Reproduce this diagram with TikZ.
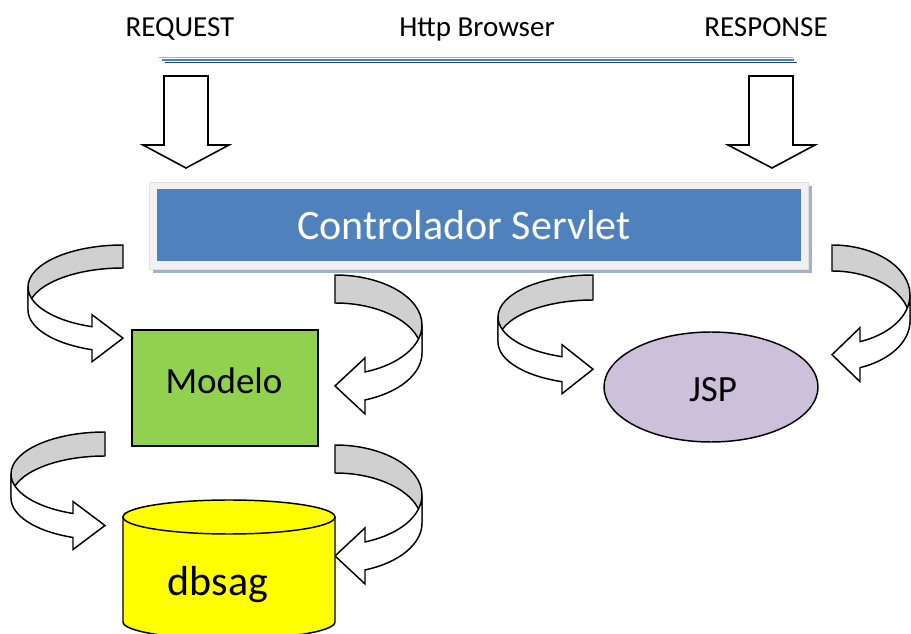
\documentclass[tikz,border=0pt]{standalone}
\usepackage{fontspec}
\setmainfont{Carlito}
\usepackage{tikz}

\definecolor{ctrlblue}{HTML}{4F81BD}
\definecolor{ctrlframe}{HTML}{F2F2F2}
\definecolor{ctrlshadow}{HTML}{A5B2C4}
\definecolor{modelgreen}{HTML}{92D050}
\definecolor{jsplilac}{HTML}{CCC0DA}
\definecolor{dbyellow}{HTML}{FFFF00}
\definecolor{bandgray}{HTML}{D0D0D0}
\definecolor{linelight}{HTML}{8DB4E2}
\definecolor{linemid}{HTML}{4F81BD}
\definecolor{linedark}{HTML}{1F497D}

% curved block arrow: tail x, tail top y, side (1 left, -1 right), x radius, y radius, band, head length, head spread
\newcommand{\curvarrow}[8]{%
\begin{scope}[shift={(#1,#2)},xscale=#3]
\pgfmathsetmacro{\headang}{acos(-#7/#4)}
\pgfmathsetmacro{\heady}{#5*sin(\headang)}
\draw[curvback] (0,0) arc[start angle=270,end angle=180,x radius=#4,y radius=#5] -- ++(0,#6) arc[start angle=180,end angle=270,x radius=#4,y radius=#5] -- cycle;
\draw[curvfront] (-#4,#5) arc[start angle=180,end angle=\headang,x radius=#4,y radius=#5] -- ++(0,-#8) -- (0,#5+\heady+#6/2) -- (-#7,#5+#6+\heady+#8) -- ++(0,-#8) arc[start angle=\headang,end angle=180,x radius=#4,y radius=#5] -- cycle;
\end{scope}}

\begin{document}
\begin{tikzpicture}[x=0.75pt,y=0.75pt,yscale=-1,xscale=1,
  toplbl/.style={anchor=base,inner sep=0pt,font=\fontsize{21.75}{26}\selectfont},
  boxlbl/.style={anchor=base,inner sep=0pt,font=\fontsize{27.75}{33}\selectfont},
  biglbl/.style={anchor=base,inner sep=0pt,font=\fontsize{31.5}{38}\selectfont},
  blockarrow/.style={draw=black,line width=1.2pt,fill=white},
  curvback/.style={draw=black,line width=1.1pt,fill=bandgray},
  curvfront/.style={draw=black,line width=1.1pt,fill=white}]
\useasboundingbox (0,0) rectangle (911,634);

% Text Node
\node[toplbl] (request) at (180,37) {REQUEST};
% Text Node
\node[toplbl] (browser) at (477,37) {Http Browser};
% Text Node
\node[toplbl] (response) at (766,37) {RESPONSE};

%Browser line
\draw[linelight,line width=1.1pt] (159,57.5) -- (793,57.5);
\draw[linemid,line width=1.5pt] (162,60) -- (794,60);
\draw[linedark,line width=1.1pt] (165,62.5) -- (797,62.5);

%Down arrows
\draw[blockarrow] (164,76) -- (164,145) -- (143,145) -- (186,168) -- (229,145) -- (208,145) -- (208,76) -- cycle;
\draw[blockarrow] (749,76) -- (749,145) -- (728,145) -- (772,168) -- (815,145) -- (793,145) -- (793,76) -- cycle;

%Controller
\fill[ctrlshadow] (153,186) rectangle (812,273);
\draw[draw=black!12,fill=ctrlframe] (149,182) rectangle (808,269);
\fill[ctrlblue] (157,189) rectangle (801,261);
% Text Node
\node[biglbl,text=white] (ctrl) at (464,240) {Controlador Servlet};

%Curved arrows
\curvarrow{123}{245}{1}{95}{42}{23}{31}{12}
\curvarrow{335}{275}{-1}{87}{50}{28}{30}{14}
\curvarrow{593}{275}{1}{95}{42}{25}{31}{12}
\curvarrow{832}{245}{-1}{78}{50}{26}{28}{14}
\curvarrow{105}{432}{1}{94}{42}{24}{32}{12}
\curvarrow{335}{445}{-1}{87}{50}{28}{30}{14}

%Modelo
\draw[line width=1.1pt,fill=modelgreen] (132,330) rectangle (318,446);
% Text Node
\node[boxlbl] (modelo) at (224,394) {Modelo};

%JSP
\draw[line width=1.1pt,fill=jsplilac] (711,387) ellipse [x radius=107,y radius=55];
% Text Node
\node[boxlbl] (jsp) at (713,402) {JSP};

%dbsag
\draw[line width=1.1pt,fill=dbyellow] (123,517) -- (123,622) arc[start angle=180,end angle=0,x radius=106,y radius=17] -- (335,517);
\draw[line width=1.1pt,fill=dbyellow] (229,517) ellipse [x radius=106,y radius=17];
% Text Node
\node[biglbl] (db) at (218,595) {dbsag};

\end{tikzpicture}
\end{document}
